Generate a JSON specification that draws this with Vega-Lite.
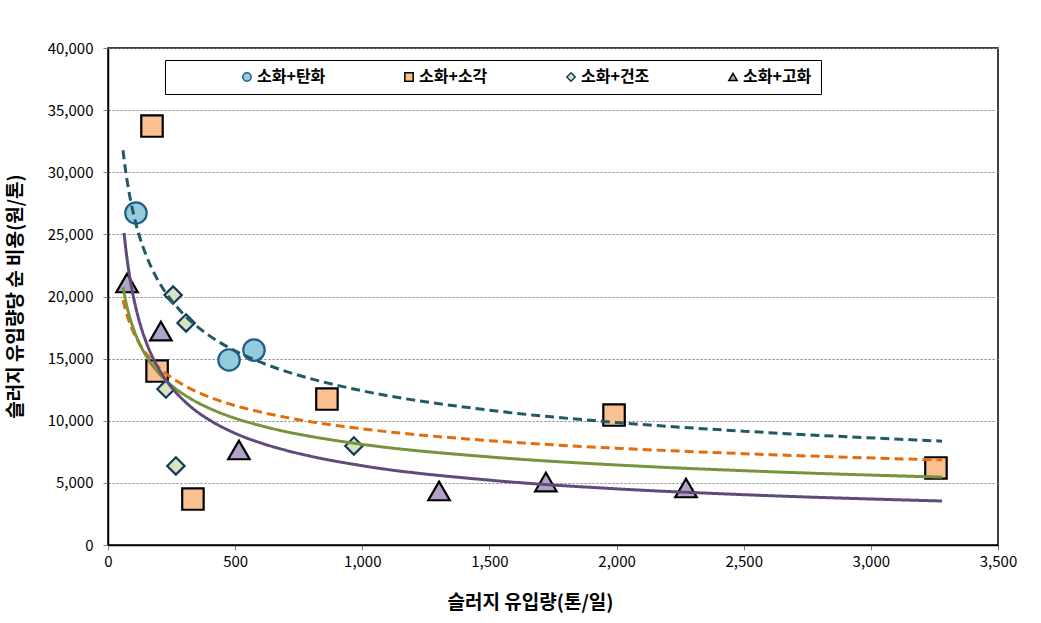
{
  "$schema": "https://vega.github.io/schema/vega-lite/v6.json",
  "width": 890,
  "height": 497,
  "autosize": {"type": "none"},
  "padding": {"left": 108, "top": 48, "right": 43, "bottom": 78},
  "background": "white",
  "config": {
    "font": "Noto Sans CJK KR",
    "view": {"stroke": "black", "strokeWidth": 1.5},
    "legend": {
      "labelFontSize": 16,
      "labelFontWeight": "bold",
      "labelColor": "black",
      "symbolSize": 70,
      "symbolStrokeWidth": 1.5,
      "labelOffset": 2
    }
  },
  "datasets": {
    "points": [
      {"series": "소화+탄화", "x": 110, "y": 26720},
      {"series": "소화+탄화", "x": 476, "y": 14890},
      {"series": "소화+탄화", "x": 574, "y": 15690},
      {"series": "소화+소각", "x": 173, "y": 33720},
      {"series": "소화+소각", "x": 193, "y": 14000},
      {"series": "소화+소각", "x": 334, "y": 3700},
      {"series": "소화+소각", "x": 861, "y": 11750},
      {"series": "소화+소각", "x": 1990, "y": 10460},
      {"series": "소화+소각", "x": 3256, "y": 6200},
      {"series": "소화+건조", "x": 256, "y": 20120},
      {"series": "소화+건조", "x": 307, "y": 17870},
      {"series": "소화+건조", "x": 228, "y": 12550},
      {"series": "소화+건조", "x": 267, "y": 6360},
      {"series": "소화+건조", "x": 967, "y": 7970},
      {"series": "소화+고화", "x": 75, "y": 21090},
      {"series": "소화+고화", "x": 208, "y": 17220},
      {"series": "소화+고화", "x": 515, "y": 7650},
      {"series": "소화+고화", "x": 1302, "y": 4350},
      {"series": "소화+고화", "x": 1722, "y": 5070},
      {"series": "소화+고화", "x": 2273, "y": 4590}
    ],
    "curves": [
      {"curve": "탄화", "x": 59, "y": 31770},
      {"curve": "탄화", "x": 70, "y": 30010},
      {"curve": "탄화", "x": 80, "y": 28710},
      {"curve": "탄화", "x": 90, "y": 27610},
      {"curve": "탄화", "x": 100, "y": 26670},
      {"curve": "탄화", "x": 120, "y": 25090},
      {"curve": "탄화", "x": 150, "y": 23310},
      {"curve": "탄화", "x": 175, "y": 22140},
      {"curve": "탄화", "x": 200, "y": 21180},
      {"curve": "탄화", "x": 250, "y": 19670},
      {"curve": "탄화", "x": 300, "y": 18510},
      {"curve": "탄화", "x": 350, "y": 17590},
      {"curve": "탄화", "x": 400, "y": 16830},
      {"curve": "탄화", "x": 500, "y": 15620},
      {"curve": "탄화", "x": 600, "y": 14710},
      {"curve": "탄화", "x": 700, "y": 13970},
      {"curve": "탄화", "x": 800, "y": 13370},
      {"curve": "탄화", "x": 1000, "y": 12410},
      {"curve": "탄화", "x": 1500, "y": 10850},
      {"curve": "탄화", "x": 2000, "y": 9860},
      {"curve": "탄화", "x": 2500, "y": 9160},
      {"curve": "탄화", "x": 3280, "y": 8360},
      {"curve": "소각", "x": 59, "y": 19700},
      {"curve": "소각", "x": 70, "y": 18830},
      {"curve": "소각", "x": 80, "y": 18180},
      {"curve": "소각", "x": 90, "y": 17630},
      {"curve": "소각", "x": 100, "y": 17140},
      {"curve": "소각", "x": 120, "y": 16340},
      {"curve": "소각", "x": 150, "y": 15410},
      {"curve": "소각", "x": 175, "y": 14800},
      {"curve": "소각", "x": 200, "y": 14280},
      {"curve": "소각", "x": 250, "y": 13470},
      {"curve": "소각", "x": 300, "y": 12840},
      {"curve": "소각", "x": 350, "y": 12330},
      {"curve": "소각", "x": 400, "y": 11900},
      {"curve": "소각", "x": 500, "y": 11220},
      {"curve": "소각", "x": 600, "y": 10700},
      {"curve": "소각", "x": 700, "y": 10270},
      {"curve": "소각", "x": 800, "y": 9910},
      {"curve": "소각", "x": 1000, "y": 9350},
      {"curve": "소각", "x": 1500, "y": 8400},
      {"curve": "소각", "x": 2000, "y": 7790},
      {"curve": "소각", "x": 2500, "y": 7350},
      {"curve": "소각", "x": 3280, "y": 6840},
      {"curve": "건조", "x": 59, "y": 20750},
      {"curve": "건조", "x": 70, "y": 19600},
      {"curve": "건조", "x": 80, "y": 18750},
      {"curve": "건조", "x": 90, "y": 18030},
      {"curve": "건조", "x": 100, "y": 17420},
      {"curve": "건조", "x": 120, "y": 16380},
      {"curve": "건조", "x": 150, "y": 15220},
      {"curve": "건조", "x": 175, "y": 14460},
      {"curve": "건조", "x": 200, "y": 13830},
      {"curve": "건조", "x": 250, "y": 12840},
      {"curve": "건조", "x": 300, "y": 12090},
      {"curve": "건조", "x": 350, "y": 11490},
      {"curve": "건조", "x": 400, "y": 10990},
      {"curve": "건조", "x": 500, "y": 10200},
      {"curve": "건조", "x": 600, "y": 9610},
      {"curve": "건조", "x": 700, "y": 9120},
      {"curve": "건조", "x": 800, "y": 8730},
      {"curve": "건조", "x": 1000, "y": 8100},
      {"curve": "건조", "x": 1500, "y": 7090},
      {"curve": "건조", "x": 2000, "y": 6440},
      {"curve": "건조", "x": 2500, "y": 5980},
      {"curve": "건조", "x": 3280, "y": 5460},
      {"curve": "고화", "x": 63, "y": 25110},
      {"curve": "고화", "x": 70, "y": 23830},
      {"curve": "고화", "x": 80, "y": 22300},
      {"curve": "고화", "x": 90, "y": 21050},
      {"curve": "고화", "x": 100, "y": 19970},
      {"curve": "고화", "x": 120, "y": 18250},
      {"curve": "고화", "x": 150, "y": 16330},
      {"curve": "고화", "x": 175, "y": 15130},
      {"curve": "고화", "x": 200, "y": 14160},
      {"curve": "고화", "x": 250, "y": 12690},
      {"curve": "고화", "x": 300, "y": 11590},
      {"curve": "고화", "x": 350, "y": 10730},
      {"curve": "고화", "x": 400, "y": 10050},
      {"curve": "고화", "x": 500, "y": 8990},
      {"curve": "고화", "x": 600, "y": 8220},
      {"curve": "고화", "x": 700, "y": 7620},
      {"curve": "고화", "x": 800, "y": 7130},
      {"curve": "고화", "x": 1000, "y": 6380},
      {"curve": "고화", "x": 1500, "y": 5220},
      {"curve": "고화", "x": 2000, "y": 4520},
      {"curve": "고화", "x": 2500, "y": 4050},
      {"curve": "고화", "x": 3280, "y": 3540}
    ]
  },
  "encoding": {
    "x": {
      "field": "x",
      "type": "quantitative",
      "scale": {"domain": [0, 3500], "nice": false, "zero": false},
      "axis": {
        "values": [0, 500, 1000, 1500, 2000, 2500, 3000, 3500],
        "format": ",d",
        "grid": false,
        "tickSize": 5,
        "tickColor": "#808080",
        "domainColor": "black",
        "domainWidth": 1.5,
        "labelFontSize": 15,
        "labelColor": "black",
        "labelPadding": 4,
        "labelFlush": false,
        "title": "슬러지 유입량(톤/일)",
        "titleFontSize": 19,
        "titleFontWeight": "bold",
        "titleColor": "black",
        "titleX": 422,
        "titleY": 48,
        "titleBaseline": "top"
      }
    },
    "y": {
      "field": "y",
      "type": "quantitative",
      "scale": {"domain": [0, 40000], "nice": false},
      "axis": {
        "values": [0, 5000, 10000, 15000, 20000, 25000, 30000, 35000, 40000],
        "format": ",d",
        "grid": true,
        "gridDash": [2, 2],
        "gridColor": "#808080",
        "gridWidth": 1,
        "tickSize": 5,
        "tickColor": "#808080",
        "domainColor": "black",
        "domainWidth": 1.5,
        "labelFontSize": 15,
        "labelColor": "black",
        "labelPadding": 10,
        "labelFlush": false,
        "title": "슬러지 유입량당 순 비용(원/톤)",
        "titleFontSize": 19,
        "titleFontWeight": "bold",
        "titleColor": "black",
        "titleX": -93,
        "titleY": 248,
        "titleAngle": -90,
        "titleAlign": "center",
        "titleBaseline": "middle"
      }
    }
  },
  "layer": [
    {
      "data": {"name": "points"},
      "transform": [{"filter": "datum.series !== '소화+건조'"}],
      "mark": {"type": "point", "filled": true, "strokeWidth": 2.2, "opacity": 1, "size": 460},
      "encoding": {
        "shape": {
          "field": "series",
          "type": "nominal",
          "scale": {"domain": ["소화+탄화", "소화+소각", "소화+건조", "소화+고화"], "range": ["circle", "square", "diamond", "triangle-up"]},
          "legend": {"orient": "none", "legendX": 57, "legendY": 12, "direction": "horizontal", "columns": 4, "gridAlign": "all", "strokeColor": "black", "padding": 9, "columnPadding": 75, "title": "\u00a0", "titleOrient": "left", "titleFontSize": 1, "titlePadding": 65, "symbolSize": 70}
        },
        "fill": {
          "field": "series",
          "type": "nominal",
          "scale": {"domain": ["소화+탄화", "소화+소각", "소화+건조", "소화+고화"], "range": ["#93CDDD", "#FAC090", "#D7E4BD", "#B3A2C7"]},
          "legend": {"orient": "none", "legendX": 57, "legendY": 12, "direction": "horizontal", "columns": 4, "gridAlign": "all", "strokeColor": "black", "padding": 9, "columnPadding": 75, "title": "\u00a0", "titleOrient": "left", "titleFontSize": 1, "titlePadding": 65, "symbolSize": 70}
        },
        "stroke": {
          "field": "series",
          "type": "nominal",
          "scale": {"domain": ["소화+탄화", "소화+소각", "소화+건조", "소화+고화"], "range": ["#215D8C", "#000000", "#17375E", "#000000"]},
          "legend": {"orient": "none", "legendX": 57, "legendY": 12, "direction": "horizontal", "columns": 4, "gridAlign": "all", "strokeColor": "black", "padding": 9, "columnPadding": 75, "title": "\u00a0", "titleOrient": "left", "titleFontSize": 1, "titlePadding": 65, "symbolSize": 70}
        }
      }
    },
    {
      "data": {"name": "points"},
      "transform": [{"filter": "datum.series === '소화+건조'"}],
      "mark": {"type": "point", "filled": true, "strokeWidth": 2.2, "opacity": 1, "size": 300},
      "encoding": {
        "shape": {"field": "series", "type": "nominal"},
        "fill": {"field": "series", "type": "nominal"},
        "stroke": {"field": "series", "type": "nominal"}
      }
    },
    {
      "data": {"name": "curves"},
      "mark": {"type": "line", "strokeWidth": 3, "clip": true, "strokeCap": "butt", "interpolate": "monotone"},
      "encoding": {
        "color": {
          "field": "curve",
          "type": "nominal",
          "scale": {"domain": ["탄화", "소각", "건조", "고화"], "range": ["#215967", "#E46C0A", "#77933C", "#604A7B"]},
          "legend": null
        },
        "strokeDash": {
          "field": "curve",
          "type": "nominal",
          "scale": {"domain": ["탄화", "소각", "건조", "고화"], "range": [[9, 5], [9, 5], [1, 0], [1, 0]]},
          "legend": null
        }
      }
    }
  ]
}
